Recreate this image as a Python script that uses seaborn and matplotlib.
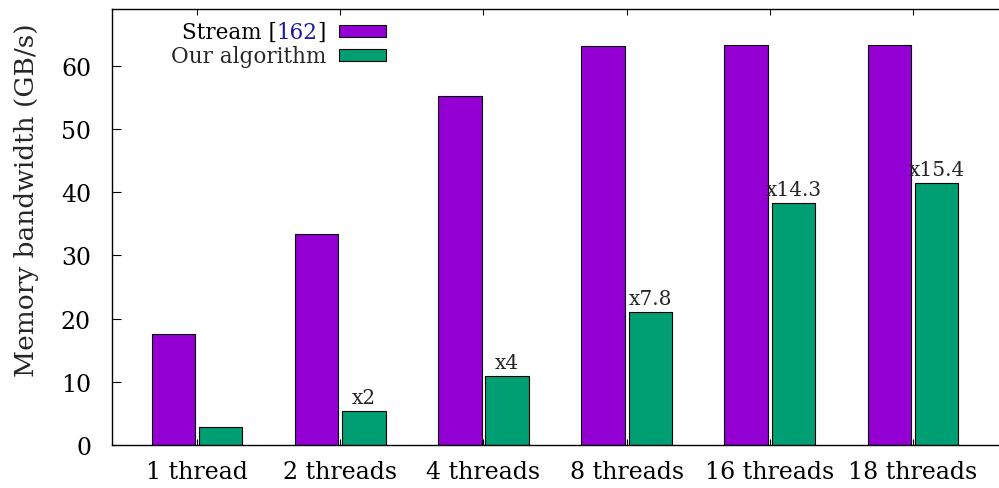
import matplotlib
matplotlib.use("Agg")
import matplotlib.pyplot as plt
import matplotlib.transforms as mtransforms
import seaborn as sns
import pandas as pd

# values
threads = ["1 thread", "2 threads", "4 threads", "8 threads", "16 threads", "18 threads"]
stream_bw = [17.5, 33.3, 55.2, 63.1, 63.3, 63.3]
ours_bw = [2.8, 5.4, 10.9, 21.0, 38.2, 41.4]
speedups = ["", "x2", "x4", "x7.8", "x14.3", "x15.4"]
series = ["Stream [162]", "Our algorithm"]
colors = ["#9400d3", "#009e73"]

df = pd.DataFrame({
    "threads": threads * 2,
    "bw": stream_bw + ours_bw,
    "series": [series[0]] * len(threads) + [series[1]] * len(threads),
})

sns.set_theme(style="ticks")
plt.rcParams["font.family"] = ["DejaVu Serif"]

fig = plt.figure(figsize=(9.99, 4.89), dpi=100)
ax = fig.add_axes([0.112, 0.088, 0.888, 0.892])
ax.set_axisbelow(True)

sns.barplot(
    data=df, x="threads", y="bw", hue="series", palette=colors,
    width=0.66, gap=0.08, saturation=1, edgecolor="black", linewidth=0.8,
    ax=ax,
)

# speedup labels over the green bars
ax.bar_label(ax.containers[1], labels=speedups, padding=3, fontsize=14.5)

ax.set_ylim(0, 69)
ax.set_xlim(-0.594, 5.6)
ax.set_yticks(range(0, 61, 10))
ax.set_xlabel("")
ax.set_ylabel("Memory bandwidth (GB/s)", fontsize=19)
ax.yaxis.set_label_coords(-0.082, 0.564)

for side in ["left", "bottom", "top"]:
    ax.spines[side].set_color("black")
    ax.spines[side].set_linewidth(1.0)
ax.spines["right"].set_visible(False)

ax.tick_params(axis="x", direction="in", length=4.5, width=0.8, top=True,
               bottom=True, labelsize=17, pad=10.5, colors="black")
ax.tick_params(axis="y", direction="in", length=6.5, width=0.8, right=False,
               labelsize=17, pad=15, colors="black")

leg = ax.legend(
    loc="upper right", bbox_to_anchor=(0.321, 0.996), frameon=False,
    markerfirst=False, fontsize=15.5, borderpad=0, labelspacing=0.1,
    handlelength=2.2, handleheight=0.47, handletextpad=0.55,
)
for h in leg.legend_handles:
    h.set_edgecolor("black")
    h.set_linewidth(0.8)

# recolour the citation number in the first legend entry
fig.canvas.draw()
renderer = fig.canvas.get_renderer()
t0 = leg.get_texts()[0]
x0, y0 = t0.get_transform().transform(t0.get_position())
t0.set_text("")
ident = mtransforms.IdentityTransform()
x = x0
for piece, col in [("Stream [", "black"), ("162", "#1a1aa6"), ("]", "black")]:
    pt = fig.text(x, y0, piece, transform=ident, ha="left", va="baseline",
                  fontsize=15.5, color=col)
    x += pt.get_window_extent(renderer).width - 0.5

fig.savefig("out.png", dpi=100)
